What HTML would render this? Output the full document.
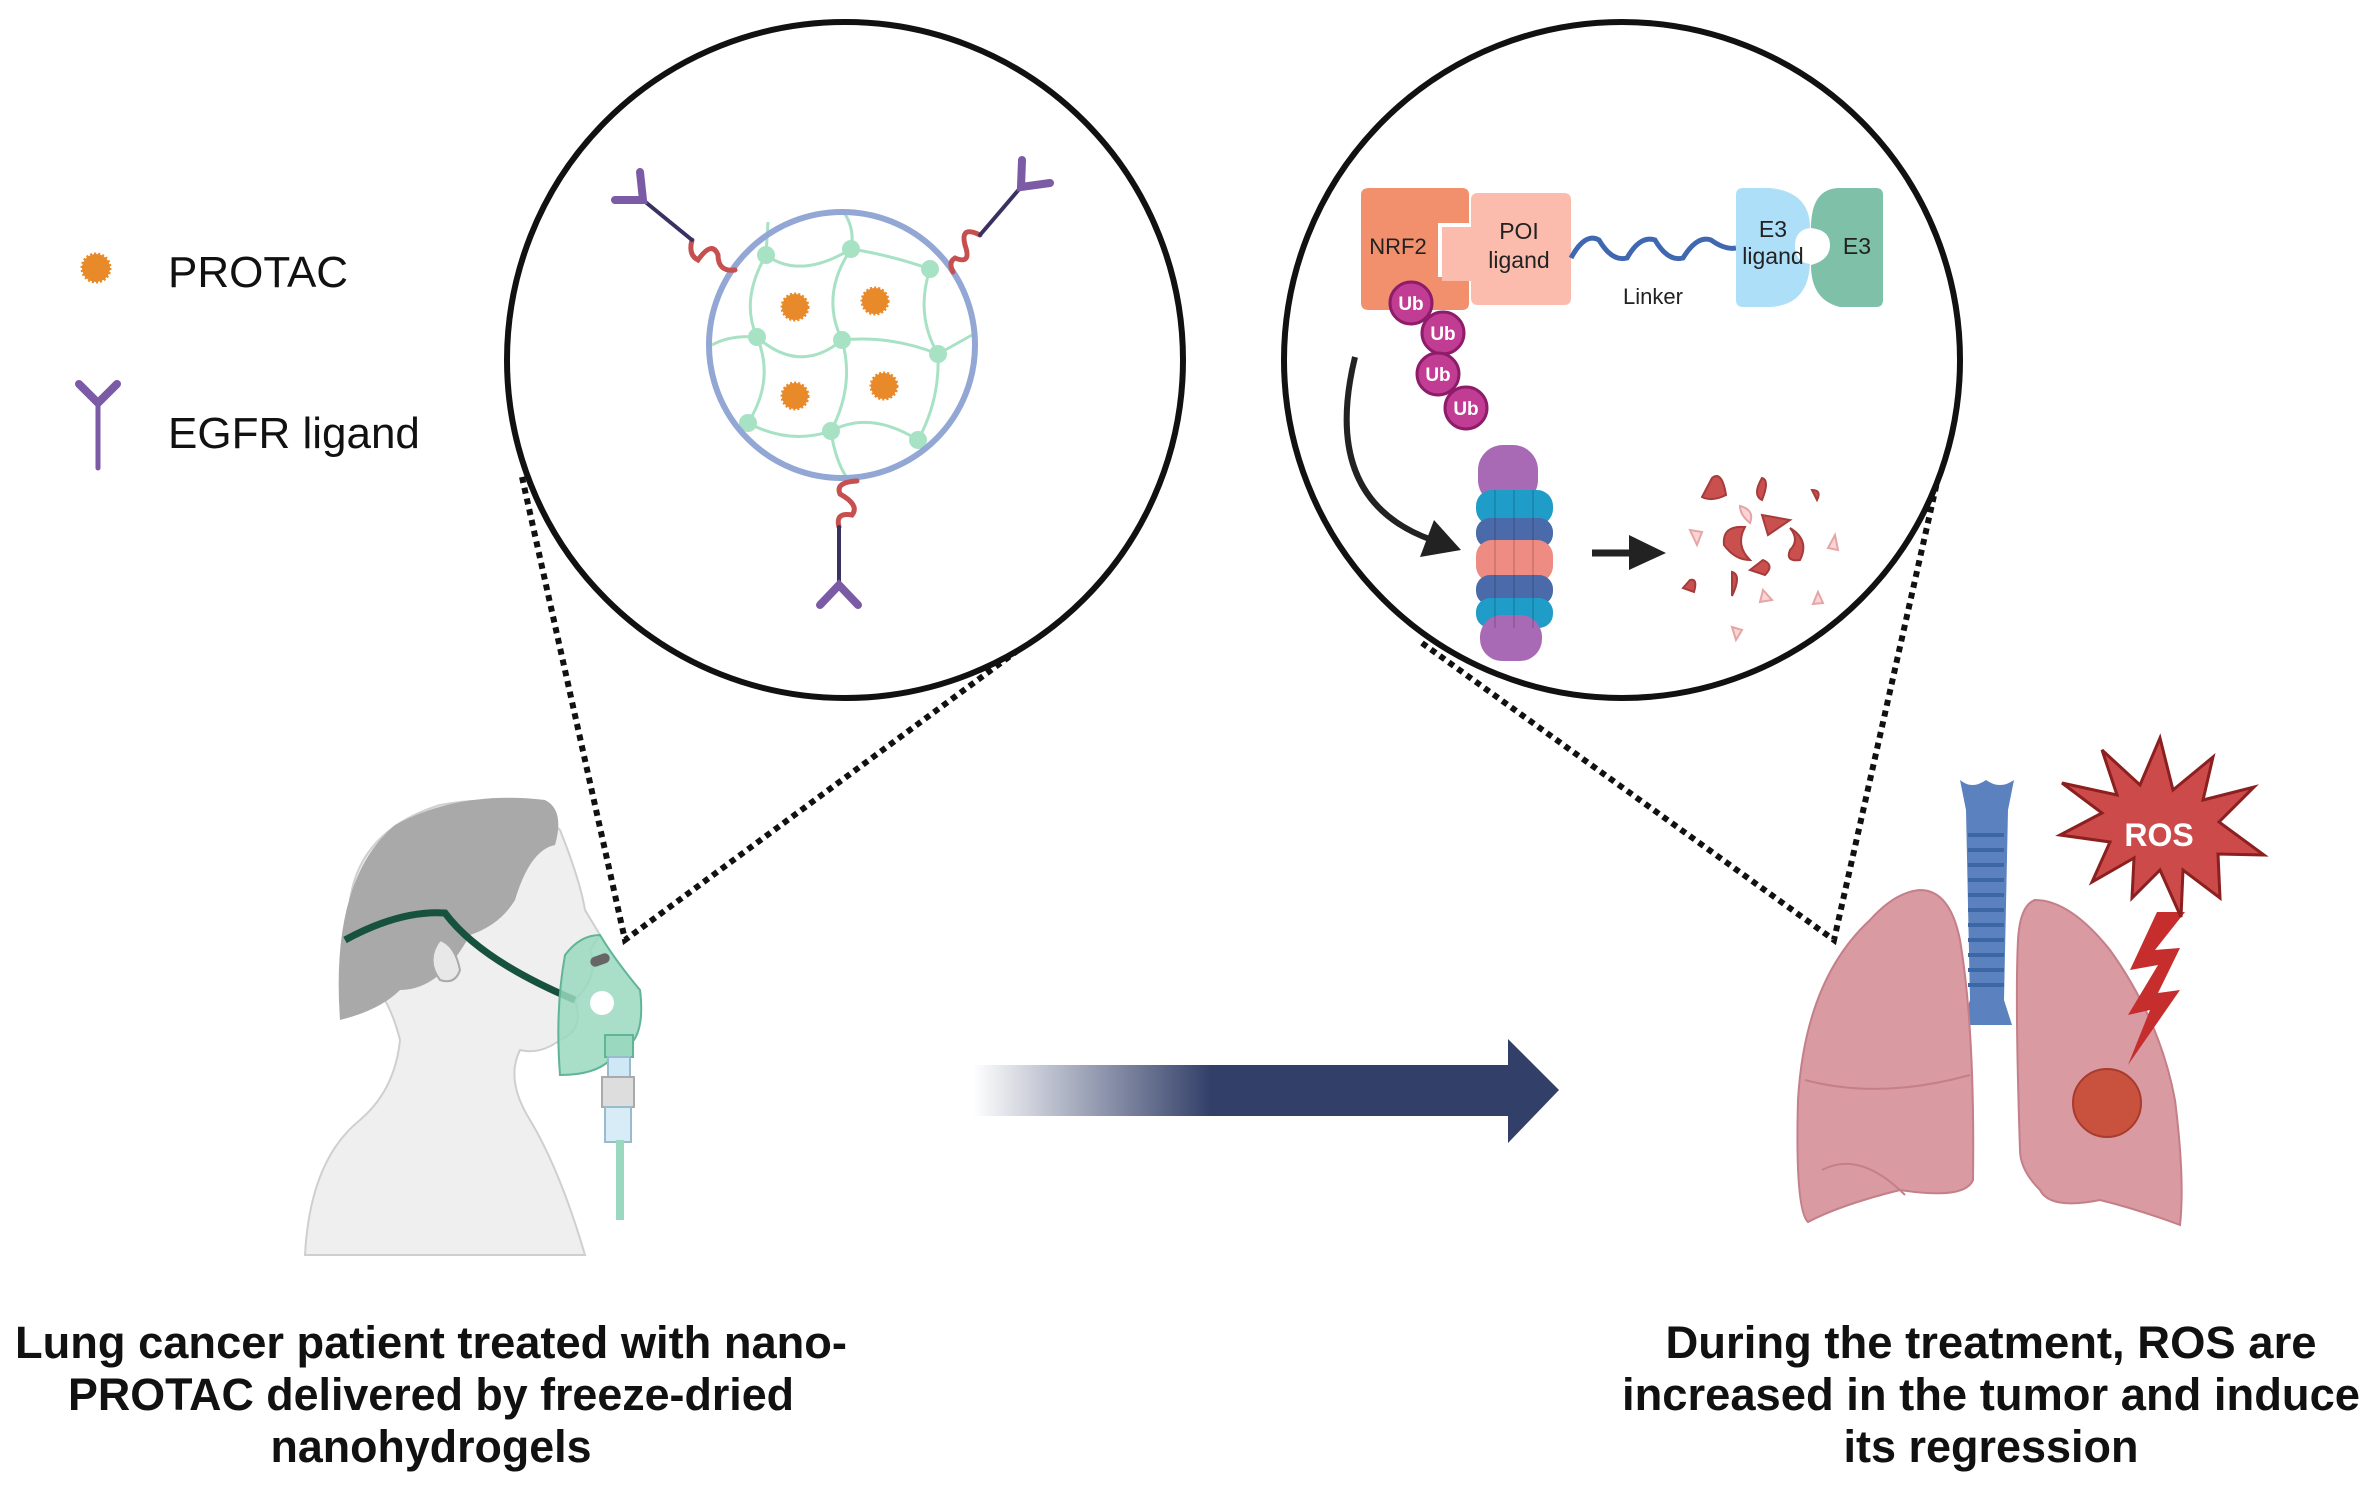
<!DOCTYPE html>
<html><head><meta charset="utf-8"><style>
html,body{margin:0;padding:0;background:#fff}
svg{display:block}
text{font-family:"Liberation Sans",Arial,sans-serif}
</style></head><body>
<svg width="2373" height="1488" viewBox="0 0 2373 1488" xmlns="http://www.w3.org/2000/svg">
<defs>
<linearGradient id="ag" x1="973" y1="0" x2="1211" y2="0" gradientUnits="userSpaceOnUse">
<stop offset="0" stop-color="#323f68" stop-opacity="0"/><stop offset="1" stop-color="#323f68"/></linearGradient>
</defs>
<rect width="2373" height="1488" fill="#fff"/>

<g stroke="#111" stroke-width="6" stroke-dasharray="6 5" fill="none">
<path d="M522 477 L625 940 L1017 651"/>
<path d="M1422 643 L1834 940 L1940 469"/>
</g>

<circle cx="845" cy="360" r="338" fill="#fff" stroke="#111" stroke-width="6"/>
<circle cx="1622" cy="360" r="338" fill="#fff" stroke="#111" stroke-width="6"/>

<circle cx="96" cy="268" r="14" fill="#e8892a" stroke="#e8892a" stroke-width="3" stroke-dasharray="2 2"/>
<text x="168" y="287" font-size="44" fill="#111">PROTAC</text>
<g stroke="#7b5aa6" stroke-linecap="round" fill="none">
<path d="M79 384 L98 403 L117 384" stroke-width="8"/>
<path d="M98 403 L98 468" stroke-width="5"/>
</g>
<text x="168" y="448" font-size="44" fill="#111">EGFR ligand</text>

<g stroke="#a8e2c4" stroke-width="3" fill="none">
<path d="M766 255 Q800 280 851 249 Q890 255 930 269"/>
<path d="M712 345 Q730 335 757 337 Q800 375 842 340 Q890 335 938 354 L972 335"/>
<path d="M748 423 Q790 445 831 431 Q870 410 918 440"/>
<path d="M768 222 L766 255 Q740 300 757 337 Q775 380 748 423"/>
<path d="M845 214 Q855 230 851 249 Q820 295 842 340 Q855 385 831 431 Q835 460 847 478"/>
<path d="M930 269 Q915 315 938 354 Q940 400 918 440"/>
</g>
<g fill="#a8e2c4">
<circle cx="766" cy="255" r="9"/><circle cx="851" cy="249" r="9"/><circle cx="930" cy="269" r="9"/>
<circle cx="757" cy="337" r="9"/><circle cx="842" cy="340" r="9"/><circle cx="938" cy="354" r="9"/>
<circle cx="748" cy="423" r="9"/><circle cx="831" cy="431" r="9"/><circle cx="918" cy="440" r="9"/>
</g>
<g fill="#e8892a" stroke="#e8892a" stroke-width="3" stroke-dasharray="2 2">
<circle cx="795" cy="307" r="13"/><circle cx="875" cy="301" r="13"/>
<circle cx="795" cy="396" r="13"/><circle cx="884" cy="386" r="13"/>
</g>
<circle cx="842" cy="345" r="133" fill="none" stroke="#92a7d4" stroke-width="6"/>
<g fill="none" stroke-linecap="round">
<path d="M692 240 Q688 255 698 260 Q712 240 718 255 Q718 272 735 270" stroke="#c5504f" stroke-width="5"/>
<path d="M643 200 L692 240" stroke="#3b3160" stroke-width="4"/>
<path d="M640 172 L643 200 L615 200" stroke="#7b5aa6" stroke-width="8"/>
<path d="M980 235 Q960 225 965 245 Q972 265 955 258 Q948 262 953 272" stroke="#c5504f" stroke-width="5"/>
<path d="M1021 187 L980 235" stroke="#3b3160" stroke-width="4"/>
<path d="M1022 160 L1021 187 L1050 183" stroke="#7b5aa6" stroke-width="8"/>
<path d="M857 481 Q835 482 840 494 Q860 505 852 515 Q835 512 839 527" stroke="#c5504f" stroke-width="5"/>
<path d="M839 527 L839 583" stroke="#3b3160" stroke-width="4"/>
<path d="M820 605 L839 585 L858 605" stroke="#7b5aa6" stroke-width="8"/>
</g>

<path d="M1369 188 H1462 Q1469 188 1469 195 V223 H1438 V277 H1469 V303 Q1469 310 1462 310 H1369 Q1361 310 1361 303 V195 Q1361 188 1369 188Z" fill="#f2906d"/>
<path d="M1478 193 H1564 Q1571 193 1571 200 V298 Q1571 305 1564 305 H1478 Q1471 305 1471 298 V281 H1442 V227 H1471 V200 Q1471 193 1478 193Z" fill="#fbbcad"/>
<text x="1398" y="254" font-size="22" fill="#222" text-anchor="middle">NRF2</text>
<text x="1519" y="239" font-size="23" fill="#222" text-anchor="middle">POI</text>
<text x="1519" y="268" font-size="23" fill="#222" text-anchor="middle">ligand</text>
<path d="M1571 258 Q1585 232 1599 240 Q1612 262 1627 258 Q1640 235 1655 240 Q1668 262 1683 258 Q1697 235 1711 240 Q1725 250 1736 248" fill="none" stroke="#3f68b1" stroke-width="5"/>
<text x="1653" y="304" font-size="22" fill="#222" text-anchor="middle">Linker</text>
<path d="M1817 188 H1876 Q1883 188 1883 195 V300 Q1883 307 1876 307 H1840 Q1811 300 1811 265 Q1830 260 1830 245 Q1830 230 1811 228 Q1811 188 1840 188Z" fill="#7fc0a8"/>
<path d="M1743 188 H1770 Q1810 192 1810 228 Q1795 230 1795 246 Q1795 262 1810 264 Q1808 305 1770 307 H1743 Q1736 307 1736 300 V195 Q1736 188 1743 188Z" fill="#addff9"/>
<text x="1773" y="237" font-size="23" fill="#222" text-anchor="middle">E3</text>
<text x="1773" y="264" font-size="23" fill="#222" text-anchor="middle">ligand</text>
<text x="1857" y="254" font-size="23" fill="#222" text-anchor="middle">E3</text>
<g fill="#c13c93" stroke="#8e1c6a" stroke-width="3">
<circle cx="1411" cy="303" r="21"/><circle cx="1443" cy="333" r="21"/><circle cx="1438" cy="374" r="21"/><circle cx="1466" cy="408" r="21"/>
</g>
<g fill="#fff" font-size="19" font-weight="bold" text-anchor="middle">
<text x="1411" y="310">Ub</text><text x="1443" y="340">Ub</text><text x="1438" y="381">Ub</text><text x="1466" y="415">Ub</text>
</g>
<path d="M1355 357 Q1320 500 1432 540" fill="none" stroke="#222" stroke-width="6"/>
<polygon points="1420,557 1434,520 1461,550" fill="#222"/>
<g>
<rect x="1478" y="445" width="60" height="60" rx="25" fill="#a86ab4"/>
<rect x="1476" y="490" width="77" height="35" rx="16" fill="#1f9cc8"/>
<rect x="1476" y="518" width="77" height="30" rx="14" fill="#4a6aaa"/>
<rect x="1476" y="540" width="77" height="42" rx="16" fill="#ee8b82"/>
<rect x="1476" y="575" width="77" height="30" rx="14" fill="#4a6aaa"/>
<rect x="1476" y="598" width="77" height="30" rx="14" fill="#1f9cc8"/>
<rect x="1480" y="615" width="62" height="46" rx="22" fill="#a86ab4"/>
<g fill="none" stroke="#000" stroke-opacity="0.12" stroke-width="2">
<path d="M1495 490 V628 M1514 490 V628 M1533 490 V628"/>
</g>
</g>
<path d="M1592 553 H1632" stroke="#222" stroke-width="7"/>
<polygon points="1629,535 1666,553 1629,570" fill="#222"/>
<g fill="#c9504f" stroke="#a63b3b" stroke-width="2">
<path d="M1712 478 Q1722 470 1726 495 Q1712 502 1702 497Z"/>
<path d="M1762 478 Q1770 480 1762 500 Q1752 495 1762 478Z"/>
<path d="M1812 490 Q1822 490 1817 500 Z"/>
<path d="M1762 515 L1790 520 L1768 535Z"/>
<path d="M1745 527 Q1722 525 1724 545 Q1735 560 1750 560 Q1735 545 1745 527Z"/>
<path d="M1790 528 Q1810 540 1800 560 Q1785 562 1790 550 Q1800 540 1790 528Z"/>
<path d="M1763 560 Q1775 565 1765 575 L1750 570Z"/>
<path d="M1690 580 Q1698 578 1694 592 L1683 588Z"/>
<path d="M1732 572 Q1742 575 1732 596 Z"/>
</g>
<g fill="#fbd5d5" stroke="#e5a5a5" stroke-width="2">
<path d="M1740 506 Q1755 510 1750 523 Q1740 515 1740 506Z"/>
<path d="M1690 530 L1702 532 L1697 545Z"/>
<path d="M1835 535 L1838 550 L1828 548Z"/>
<path d="M1763 590 L1772 600 L1760 602Z"/>
<path d="M1818 592 L1823 603 L1813 604Z"/>
<path d="M1732 627 L1742 630 L1736 640Z"/>
</g>

<rect x="973" y="1065" width="536" height="51" fill="url(#ag)"/>
<polygon points="1508,1039 1559,1090 1508,1143" fill="#323f68"/>

<g>
<path d="M305 1255 Q310 1160 360 1120 Q395 1090 400 1040 Q390 1000 370 980 L350 900 Q360 830 440 805 Q520 790 560 830 Q580 880 585 910 L600 935 L590 950 Q600 975 575 1000 Q585 1030 560 1040 Q540 1055 520 1050 Q505 1080 530 1120 Q560 1170 585 1255Z" fill="#efefef" stroke="#cfcfcf" stroke-width="2"/>
<path d="M340 1020 Q330 880 395 825 Q460 790 545 800 Q565 810 555 845 Q530 850 515 900 Q500 925 470 935 Q440 990 400 990 Q380 1010 340 1020Z" fill="#a9a9a9"/>
<path d="M440 940 Q425 960 440 980 Q455 985 460 970 Q455 945 440 940Z" fill="#e8e8e8" stroke="#aaa" stroke-width="2"/>
<path d="M345 940 Q400 910 445 913 Q480 960 575 1000" fill="none" stroke="#17523e" stroke-width="7"/>
<path d="M565 955 Q580 935 600 935 Q615 960 640 990 Q645 1030 630 1045 Q612 1050 610 1060 Q595 1075 560 1075 Q555 1010 565 955Z" fill="#9ad8bf" fill-opacity="0.85" stroke="#5fb596" stroke-width="2"/>
<circle cx="602" cy="1003" r="12" fill="#fff"/>
<rect x="590" y="955" width="20" height="10" rx="5" fill="#666" transform="rotate(-20 600 960)"/>
<rect x="605" y="1035" width="28" height="22" fill="#9ad8bf" stroke="#5fb596" stroke-width="2"/>
<rect x="608" y="1057" width="22" height="20" fill="#cfe8f5" stroke="#9bc" stroke-width="2"/>
<rect x="602" y="1077" width="32" height="30" fill="#ddd" stroke="#aaa" stroke-width="2"/>
<rect x="605" y="1107" width="26" height="35" fill="#d8ecf7" stroke="#9bc" stroke-width="2"/>
<rect x="616" y="1140" width="8" height="80" fill="#9ad8bf"/>
</g>

<path d="M1960 780 Q1972 790 1986 780 Q2000 790 2014 780 L2008 810 L2004 1000 L2012 1025 L1962 1025 L1970 1000 L1966 810Z" fill="#5b82be"/>
<g stroke="#3d66a4" stroke-width="4">
<path d="M1968 835 H2004 M1968 850 H2004 M1968 865 H2004 M1968 880 H2004 M1968 895 H2004 M1968 910 H2004 M1968 925 H2004 M1968 940 H2004 M1968 955 H2004 M1968 970 H2004 M1968 985 H2004"/>
</g>
<path d="M1920 890 Q1950 890 1960 940 Q1975 1030 1973 1180 Q1965 1200 1900 1190 Q1840 1205 1808 1222 Q1795 1210 1798 1100 Q1805 980 1870 920 Q1895 892 1920 890Z" fill="#d99aa2" stroke="#c47f89" stroke-width="2"/>
<path d="M2035 900 Q2070 900 2110 950 Q2160 1020 2175 1100 Q2185 1180 2180 1225 Q2140 1210 2100 1200 Q2050 1210 2040 1190 Q2020 1170 2020 1150 Q2015 1000 2018 940 Q2020 905 2035 900Z" fill="#d99aa2" stroke="#c47f89" stroke-width="2"/>
<path d="M1805 1080 Q1880 1100 1970 1075" fill="none" stroke="#c47f89" stroke-width="2"/>
<path d="M1822 1170 Q1860 1150 1905 1195" fill="none" stroke="#c47f89" stroke-width="2"/>
<circle cx="2107" cy="1103" r="34" fill="#c8523d" stroke="#a83b2c" stroke-width="2"/>
<polygon points="2185,912 2157,912 2130,970 2158,965 2128,1015 2150,1010 2128,1065 2180,990 2158,993 2180,948 2155,950" fill="#c62e2e"/>
<polygon fill="#cc4a4a" stroke="#8c1f1f" stroke-width="3" points="2160,738 2173,790 2213,757 2203,800 2254,787 2219,822 2264,855 2218,854 2220,898 2183,870 2181,917 2160,870 2132,898 2134,858 2092,882 2110,842 2060,835 2102,813 2062,783 2117,795 2102,750 2140,785"/>
<text x="2159" y="846" font-size="32" font-weight="bold" fill="#fff" text-anchor="middle">ROS</text>

<g font-size="45" font-weight="bold" fill="#111" text-anchor="middle" lengthAdjust="spacingAndGlyphs">
<text x="431" y="1358" textLength="832" lengthAdjust="spacingAndGlyphs">Lung cancer patient treated with nano-</text>
<text x="431" y="1410" textLength="726" lengthAdjust="spacingAndGlyphs">PROTAC delivered by freeze-dried</text>
<text x="431" y="1462" textLength="321" lengthAdjust="spacingAndGlyphs">nanohydrogels</text>
<text x="1991" y="1358" textLength="651" lengthAdjust="spacingAndGlyphs">During the treatment, ROS are</text>
<text x="1991" y="1410" textLength="738" lengthAdjust="spacingAndGlyphs">increased in the tumor and induce</text>
<text x="1991" y="1462" textLength="295" lengthAdjust="spacingAndGlyphs">its regression</text>
</g>
</svg>
</body></html>
